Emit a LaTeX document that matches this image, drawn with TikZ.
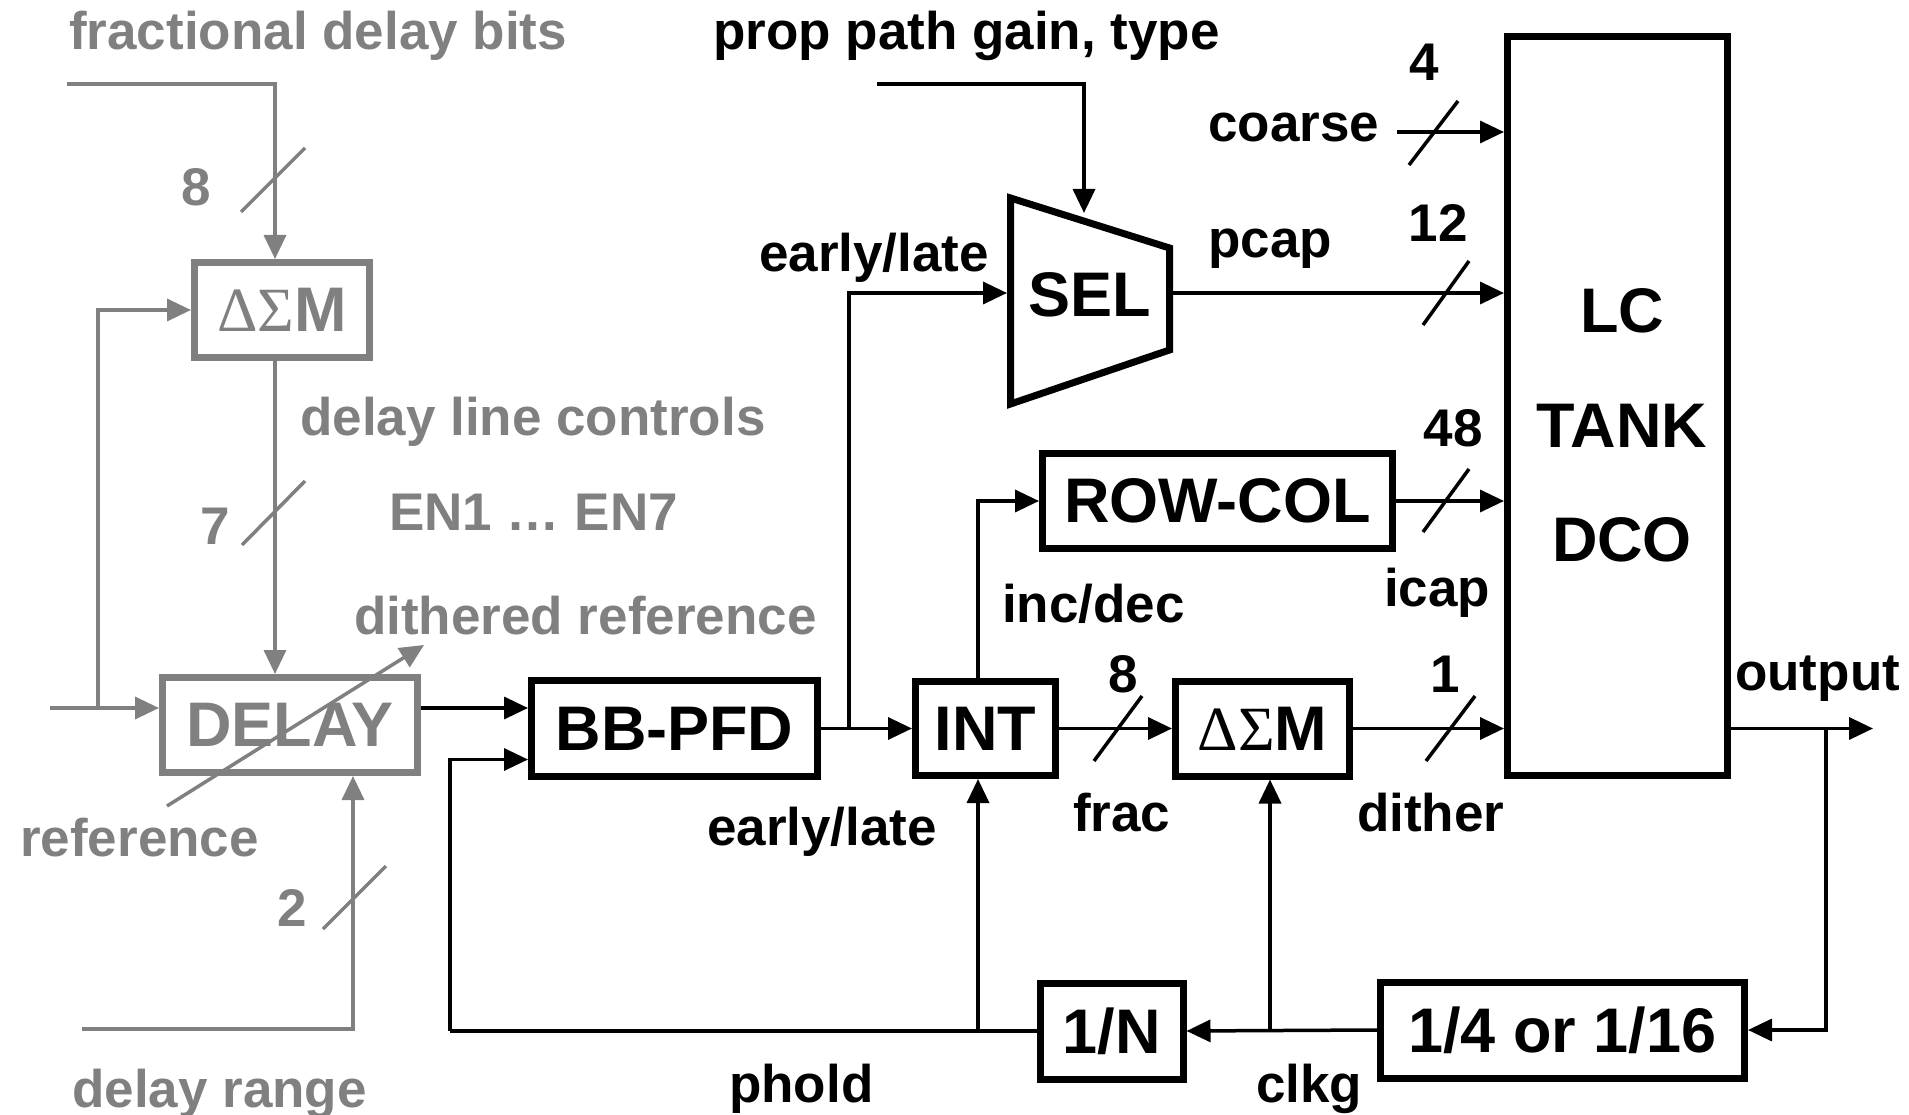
\documentclass[tikz,border=0pt]{standalone}
\usepackage{fontspec}
\setmainfont{Liberation Sans}
\newfontfamily\grkfont{Liberation Serif}
\usetikzlibrary{arrows.meta}
\definecolor{gr}{RGB}{128,128,128}
\newcommand\bxfont{\fontsize{63}{70}\selectfont\bfseries}
\newcommand\lbfont{\fontsize{53}{60}\selectfont\bfseries}
\newcommand\dsmtext{{\grkfont\mdseries ΔΣ}M}
\begin{document}
\begin{tikzpicture}[x=1pt,y=-1pt,
  blk/.style={draw=black,line width=7pt,inner sep=0pt,font=\bxfont},
  gblk/.style={blk,draw=gr,text=gr},
  cn/.style={line width=3.5pt,line join=miter},
  ar/.style={cn,-{Triangle[length=24pt,width=22pt]}},
  gcn/.style={cn,draw=gr},
  gar/.style={ar,draw=gr},
  lb/.style={font=\lbfont,inner sep=0pt,anchor=base west},
  glb/.style={lb,text=gr},
  nm/.style={font=\lbfont,inner sep=0pt,anchor=base},
  gnm/.style={nm,text=gr},
  bt/.style={font=\bxfont,inner sep=0pt,anchor=base}]
\useasboundingbox (0,0) rectangle (1909,1115);
\fill[white] (0,0) rectangle (1909,1115);

% ---------------- gray part ----------------
\node[gblk,minimum width=175pt,minimum height=95pt] (gdsm) at (282,310) {\dsmtext};
\node[gblk,minimum width=255pt,minimum height=95pt] (delay) at (290,725) {DELAY};

\coordinate (fd) at (67,84);
\coordinate (ref) at (50,708);
\coordinate (fb) at (98,708);
\coordinate (dr) at (82,1029);
\coordinate (va1) at (167,806);
\coordinate (va2) at (424,645);

\draw[gar] (fd) -| ([xshift=-7pt]gdsm.north);
\draw[gar] ([xshift=-7pt]gdsm.south) -- ([xshift=-7pt]gdsm.south |- delay.north);
\draw[gar] (ref) -- (ref -| delay.west);
\draw[gar] (fb) |- (gdsm.west);
\draw[gar] (dr) -| ([xshift=63pt]delay.south);
\draw[gar] (va1) -- (va2);

\coordinate (gs1a) at (241,212); \coordinate (gs1b) at (305,148);
\coordinate (gs2a) at (242,545); \coordinate (gs2b) at (305,481);
\coordinate (gs3a) at (323,929); \coordinate (gs3b) at (386,866);
\draw[gcn] (gs1a) -- (gs1b);
\draw[gcn] (gs2a) -- (gs2b);
\draw[gcn] (gs3a) -- (gs3b);

\node[gnm] (n8g) at (196,206) {8};
\node[gnm] (n7g) at (215,544) {7};
\node[gnm] (n2g) at (292,926) {2};

\node[glb] (tfdb) at (69,50) {fractional delay bits};
\node[glb] (tdlc) at (300,435) {delay line controls};
\node[glb] (ten) at (389,530) {EN1 … EN7};
\node[glb] (tdit) at (354,634) {dithered reference};
\node[glb] (tref) at (20,856) {reference};
\node[glb] (tdr) at (72,1107) {delay range};

% ---------------- black part ----------------
\node[blk,minimum width=286pt,minimum height=96pt] (pfd) at (674.5,728.5) {BB-PFD};
\node[blk,minimum width=140pt,minimum height=94pt] (int) at (985.5,728.5) {INT};
\node[blk,minimum width=174pt,minimum height=95pt] (dsm) at (1262.5,728.5) {\dsmtext};
\node[blk,minimum width=350pt,minimum height=95pt] (rowcol) at (1217.5,501) {ROW-COL};
\node[blk,minimum width=220pt,minimum height=739pt] (lc) at (1617.5,406) {};
\node[bt] (lc1) at (1622,333) {LC};
\node[bt] (lc2) at (1622,447) {TANK};
\node[bt] (lc3) at (1622,561) {DCO};
\node[blk,minimum width=143pt,minimum height=96pt] (ndiv) at (1111.5,1031) {1/N};
\node[blk,minimum width=364pt,minimum height=96pt] (div) at (1562.5,1030) {1/4 or 1/16};

% SEL trapezoid
\coordinate (s1) at (1010.5,198);
\coordinate (s2) at (1169.5,248);
\coordinate (s3) at (1169.5,350);
\coordinate (s4) at (1010.5,404);
\draw[line width=7pt,line join=miter] (s1) -- (s2) -- (s3) -- (s4) -- cycle;
\node[bt] (sel) at (1090,317) {SEL};
\coordinate (selin) at (1007,293);
\coordinate (selout) at (1173,293);
\coordinate (seltop) at (1084,213);

\coordinate (br1) at (849,728.5);
\coordinate (pp) at (877,84);
\coordinate (co) at (1397,132);
\coordinate (bl) at (450,1031);
\coordinate (out) at (1873,728.5);
\coordinate (br2) at (1826,728.5);
\coordinate (br3) at (1270,1030);
\coordinate (br4) at (978,1031);

\draw[ar] ([yshift=17pt]delay.east) -- ([yshift=17pt]delay.east -| pfd.west);
\draw[ar] (bl) |- ([yshift=-31pt]pfd.west);
\draw[cn] (ndiv.west) -- (bl);
\draw[ar] (pfd.east) -- (int.west);
\draw[ar] (br1) |- (selin);
\draw[ar] (pp) -| (seltop);
\draw[ar] (selout) -- (selout -| lc.west);
\draw[ar] (co) -- (co -| lc.west);
\draw[ar] (rowcol.east) -- (rowcol.east -| lc.west);
\draw[ar] ([xshift=-7.5pt]int.north) |- (rowcol.west);
\draw[ar] (int.east) -- (dsm.west);
\draw[ar] (dsm.east) -- (dsm.east -| lc.west);
\draw[ar] (dsm.east -| lc.east) -- (out);
\draw[ar] (br2) |- (div.east);
\draw[ar] (div.west) -- (ndiv.east);
\draw[ar] (br3) -- (br3 |- dsm.south);
\draw[ar] (br4) -- (br4 |- int.south);

% bus slashes
\coordinate (b1a) at (1409,165); \coordinate (b1b) at (1458,101);
\coordinate (b2a) at (1423,325); \coordinate (b2b) at (1469,261);
\coordinate (b3a) at (1423,532); \coordinate (b3b) at (1469,469);
\coordinate (b4a) at (1094,761); \coordinate (b4b) at (1142,696);
\coordinate (b5a) at (1426,761); \coordinate (b5b) at (1475,696);
\draw[cn] (b1a) -- (b1b);
\draw[cn] (b2a) -- (b2b);
\draw[cn] (b3a) -- (b3b);
\draw[cn] (b4a) -- (b4b);
\draw[cn] (b5a) -- (b5b);

\node[nm] (n4) at (1424,81) {4};
\node[nm] (n12) at (1438,242) {12};
\node[nm] (n48) at (1453,446) {48};
\node[nm] (n8) at (1123.5,692) {8};
\node[nm] (n1) at (1445,692) {1};

\node[lb] (tpp) at (713,50) {prop path gain, type};
\node[lb] (tco) at (1208,142) {coarse};
\node[lb] (tpc) at (1208,258) {pcap};
\node[lb] (tel1) at (759,272) {early/late};
\node[lb] (tic) at (1384,606) {icap};
\node[lb] (tid) at (1002,622) {inc/dec};
\node[lb] (tout) at (1735,690) {output};
\node[lb] (tfr) at (1073,831) {frac};
\node[lb] (tdi) at (1357,831) {dither};
\node[lb] (tel2) at (707,845) {early/late};
\node[lb] (tph) at (729,1102) {phold};
\node[lb] (tck) at (1256,1102) {clkg};
\end{tikzpicture}
\end{document}
